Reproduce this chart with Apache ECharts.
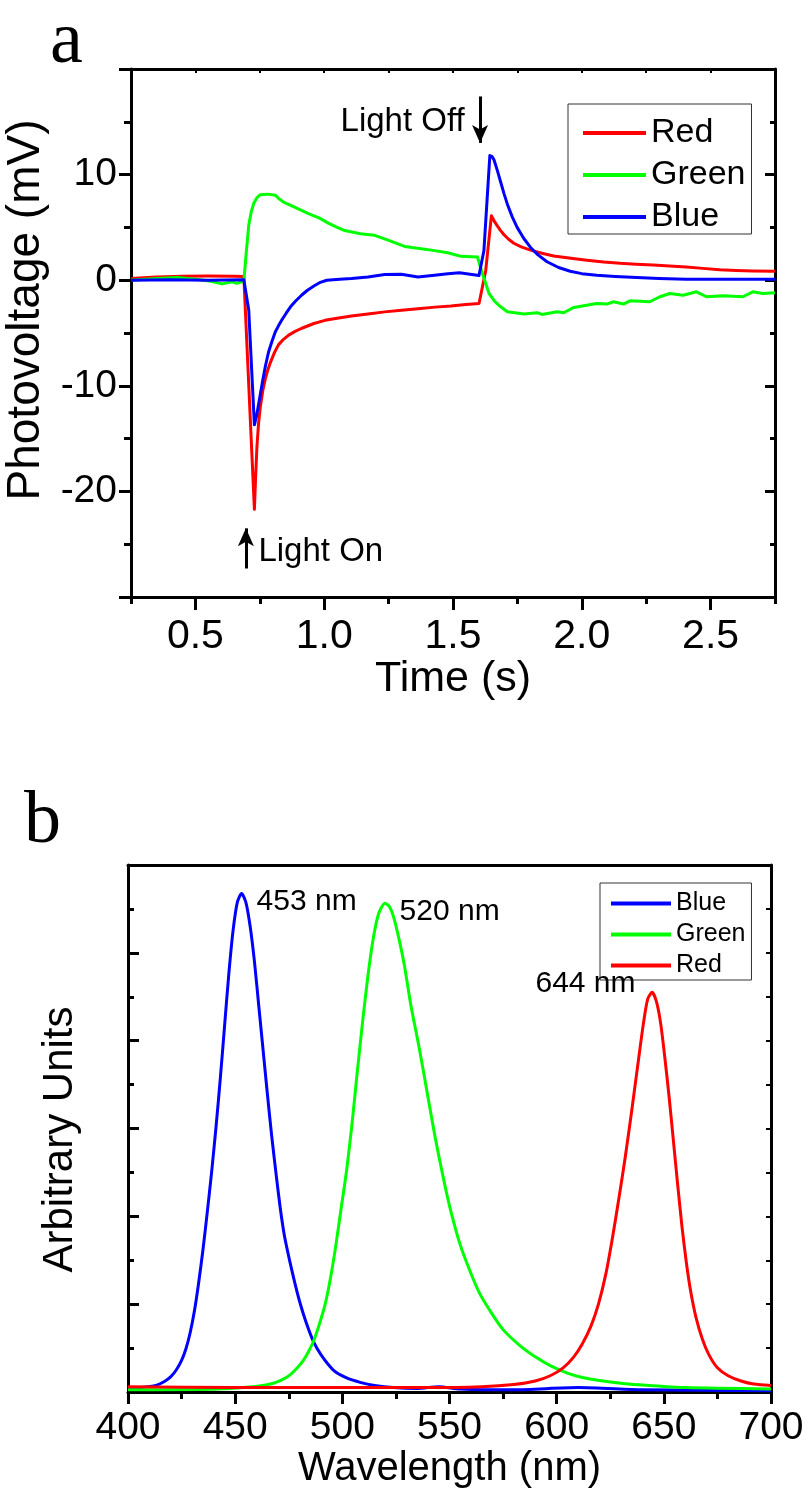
<!DOCTYPE html>
<html>
<head>
<meta charset="utf-8">
<script src="https://cdn.jsdelivr.net/npm/echarts@6/dist/echarts.min.js"></script>
<style>
html,body{margin:0;padding:0;background:#fff;}
#c{width:811px;height:1494px;}
</style>
</head>
<body>
<div id="c"></div>
<script>
// ---- Panel a: photovoltage transients [time (s), mV] ----
const redA = [[0.25,0.15],[0.35,0.3],[0.45,0.37],[0.55,0.4],[0.65,0.38],[0.688,0.35],[0.729,-21.7],[0.734,-18.5],[0.739,-15.7],[0.745,-13.6],[0.752,-12.0],[0.762,-10.4],[0.772,-9.3],[0.781,-8.5],[0.791,-7.8],[0.806,-6.9],[0.823,-6.1],[0.842,-5.6],[0.862,-5.2],[0.887,-4.85],[0.913,-4.55],[0.96,-4.1],[1.003,-3.8],[1.05,-3.6],[1.106,-3.4],[1.17,-3.2],[1.235,-3.0],[1.30,-2.85],[1.364,-2.7],[1.43,-2.55],[1.492,-2.45],[1.55,-2.3],[1.601,-2.2],[1.627,0.9],[1.649,6.1],[1.66,5.6],[1.672,5.15],[1.685,4.7],[1.698,4.3],[1.717,3.85],[1.736,3.5],[1.765,3.15],[1.801,2.85],[1.845,2.55],[1.891,2.3],[1.95,2.1],[2.02,1.9],[2.085,1.72],[2.149,1.6],[2.21,1.52],[2.278,1.45],[2.34,1.35],[2.406,1.25],[2.47,1.12],[2.535,1.0],[2.6,0.93],[2.664,0.88],[2.75,0.85]];
const greenA = [[0.25,0.0],[0.35,0.15],[0.43,0.25],[0.5,0.1],[0.56,-0.1],[0.604,-0.35],[0.642,-0.15],[0.66,-0.3],[0.688,-0.1],[0.697,2.5],[0.707,5.2],[0.717,6.5],[0.727,7.3],[0.74,7.85],[0.752,8.1],[0.78,8.15],[0.81,8.05],[0.825,7.7],[0.842,7.4],[0.887,6.9],[0.939,6.3],[0.98,5.9],[1.016,5.4],[1.05,5.0],[1.08,4.7],[1.14,4.4],[1.196,4.25],[1.248,3.8],[1.312,3.2],[1.37,3.0],[1.428,2.8],[1.48,2.6],[1.531,2.26],[1.595,2.2],[1.614,0.63],[1.64,-1.26],[1.662,-2.0],[1.685,-2.52],[1.711,-2.99],[1.775,-3.2],[1.827,-3.08],[1.846,-3.24],[1.904,-2.99],[1.93,-3.08],[1.969,-2.58],[2.058,-2.2],[2.097,-2.26],[2.123,-2.04],[2.162,-2.26],[2.187,-1.95],[2.264,-2.04],[2.303,-1.57],[2.342,-1.26],[2.393,-1.42],[2.445,-1.1],[2.484,-1.57],[2.548,-1.48],[2.625,-1.57],[2.664,-1.1],[2.703,-1.26],[2.75,-1.2]];
const blueA = [[0.25,0.0],[0.4,0.05],[0.55,0.0],[0.688,0.05],[0.707,-2.8],[0.729,-13.7],[0.737,-12.9],[0.745,-11.8],[0.752,-10.8],[0.762,-9.4],[0.772,-8.1],[0.784,-6.8],[0.797,-5.8],[0.81,-4.9],[0.823,-4.3],[0.836,-3.75],[0.853,-3.1],[0.87,-2.5],[0.89,-1.95],[0.913,-1.4],[0.935,-0.95],[0.96,-0.55],[0.985,-0.2],[1.01,0.0],[1.06,0.1],[1.106,0.15],[1.17,0.3],[1.235,0.53],[1.299,0.57],[1.364,0.3],[1.428,0.47],[1.48,0.6],[1.525,0.7],[1.601,0.45],[1.62,2.8],[1.643,11.8],[1.652,11.7],[1.659,11.4],[1.672,10.4],[1.685,9.3],[1.698,8.2],[1.711,7.2],[1.73,6.0],[1.749,5.0],[1.775,3.95],[1.801,3.1],[1.83,2.4],[1.865,1.75],[1.91,1.2],[1.955,0.85],[2.0,0.62],[2.058,0.47],[2.13,0.35],[2.213,0.25],[2.3,0.17],[2.406,0.1],[2.55,0.08],[2.75,0.08]];

// ---- Panel b: LED emission spectra [wavelength (nm), arbitrary units] ----
const blueB = [[400,0.08],[406,0.1],[413,0.15],[417,0.24],[420,0.35],[422.5,0.5],[425,0.72],[427,0.98],[429,1.35],[431,1.85],[433,2.5],[435,3.25],[437,4.1],[439,5.0],[441,6.0],[443,7.1],[445,8.3],[447,9.5],[449,10.5],[451,11.15],[453,11.35],[455,11.15],[457,10.6],[459,9.8],[461,8.8],[463,7.8],[465,6.8],[467,5.85],[469,5.0],[471,4.2],[473,3.55],[475.6,2.95],[478,2.45],[480.3,2.02],[483,1.6],[486.5,1.15],[490,0.85],[495.8,0.5],[502,0.32],[508.3,0.22],[515,0.15],[523.8,0.1],[535,0.08],[545,0.12],[555,0.07],[580,0.05],[610,0.1],[640,0.05],[700,0.03]];
const greenB = [[400,0.05],[440,0.06],[453.8,0.1],[462,0.14],[467.8,0.2],[472,0.28],[475.6,0.39],[479,0.55],[481.8,0.72],[484,0.9],[486.5,1.15],[489,1.5],[492,2.0],[494.5,2.6],[497,3.35],[499.5,4.2],[502,5.05],[504.5,6.1],[507,7.3],[509.5,8.45],[512,9.5],[514.5,10.35],[517,10.9],[519.9,11.13],[522,11.05],[524,10.8],[526.5,10.3],[529,9.7],[532,8.8],[536,7.8],[540,6.7],[543.3,5.8],[547,4.9],[550.2,4.2],[555,3.35],[559.6,2.75],[564,2.25],[568.9,1.85],[575,1.42],[583,1.05],[590,0.8],[597,0.6],[605,0.43],[612,0.33],[620,0.26],[632,0.19],[643.5,0.15],[660,0.1],[700,0.07]];
const redB = [[400,0.12],[450,0.1],[500,0.1],[540,0.1],[565,0.12],[580,0.17],[590,0.25],[597,0.37],[603,0.55],[608,0.8],[612,1.1],[616,1.5],[619.5,2.0],[623,2.7],[626,3.5],[629,4.4],[632,5.35],[635,6.4],[638,7.5],[640.5,8.4],[642.5,8.95],[644.5,9.1],[646.5,8.9],[648.5,8.4],[650.5,7.6],[652.5,6.7],[654.5,5.7],[656.5,4.7],[658.5,3.75],[660.5,2.95],[662.5,2.3],[665,1.7],[668,1.2],[671,0.85],[675,0.55],[680,0.37],[686,0.25],[692,0.18],[700,0.15]];

// ---- labels ----
const legendA = ['Red','Green','Blue'];
const legendB = ['Blue','Green','Red'];
const peakLabels = [{text:'453 nm', at:[459.3,11.16], pos:'right'},{text:'520 nm', at:[526,10.93], pos:'right'},{text:'644 nm', at:[637.5,9.29], pos:'left'}];

const SANS = '"Liberation Sans", Arial, sans-serif';
const BLACK = '#000';
const axLine = {show:true, onZero:false, lineStyle:{color:BLACK, width:3}};

function lineSeries(name, data, color, xi, yi, extra){
  return Object.assign({
    name, type:'line', data, xAxisIndex:xi, yAxisIndex:yi,
    symbol:'none', showSymbol:false, animation:false,
    lineStyle:{color, width:3, join:'round'}, itemStyle:{color}, z:3
  }, extra||{});
}

const chart = echarts.init(document.getElementById('c'), null, {renderer:'canvas', width:811, height:1494});

const option = {
  backgroundColor:'#fff',
  animation:false,
  textStyle:{fontFamily:SANS, color:BLACK},
  graphic:[
    {type:'text', x:50, y:6, style:{text:'a', font:'74px "Liberation Serif", serif', fill:BLACK}},
    {type:'text', x:24, y:786, style:{text:'b', font:'74px "Liberation Serif", serif', fill:BLACK}}
  ],
  grid:[
    {left:131, top:69, width:644, height:528, outerBoundsMode:'none', containLabel:false},
    {left:195.4, top:69, width:515.2, height:528, outerBoundsMode:'none', containLabel:false},
    {left:128, top:865, width:643, height:527, outerBoundsMode:'none', containLabel:false}
  ],
  xAxis:[
    {gridIndex:0, type:'value', position:'bottom', min:0.25, max:2.75, interval:0.25,
     axisLine:axLine, axisTick:{show:true, inside:false, length:7, lineStyle:{color:BLACK,width:3}},
     axisLabel:{show:false}, splitLine:{show:false}},
    {gridIndex:1, type:'value', position:'bottom', min:0.5, max:2.5, interval:0.5,
     axisLine:{show:false, onZero:false}, axisTick:{show:true, inside:false, length:13, lineStyle:{color:BLACK,width:3}},
     axisLabel:{show:true, fontSize:41, color:BLACK, fontFamily:SANS, margin:19, formatter:v=>v.toFixed(1)},
     splitLine:{show:false},
     name:'Time (s)', nameLocation:'middle', nameGap:49, nameTextStyle:{fontSize:43, color:BLACK, fontFamily:SANS}},
    {gridIndex:0, type:'value', position:'top', min:0.25, max:2.75, interval:0.25,
     axisLine:axLine, axisTick:{show:true, inside:true, length:4, lineStyle:{color:BLACK,width:2}},
     axisLabel:{show:false}, splitLine:{show:false}},
    {gridIndex:2, type:'value', position:'bottom', min:400, max:700, interval:50,
     axisLine:axLine, axisTick:{show:true, inside:false, length:12, lineStyle:{color:BLACK,width:3}},
     minorTick:{show:true, splitNumber:2, length:7, lineStyle:{color:BLACK,width:3}},
     axisLabel:{show:true, fontSize:39, color:BLACK, fontFamily:SANS, margin:17},
     splitLine:{show:false}, minorSplitLine:{show:false},
     name:'Wavelength (nm)', nameLocation:'middle', nameGap:56, nameTextStyle:{fontSize:40, color:BLACK, fontFamily:SANS}},
    {gridIndex:2, type:'value', position:'top', min:400, max:700, interval:50,
     axisLine:axLine, axisTick:{show:false}, axisLabel:{show:false}, splitLine:{show:false}}
  ],
  yAxis:[
    {gridIndex:0, type:'value', position:'left', min:-30, max:20, interval:10,
     axisLine:axLine, axisTick:{show:true, inside:false, length:12, lineStyle:{color:BLACK,width:3}},
     minorTick:{show:true, splitNumber:2, length:7, lineStyle:{color:BLACK,width:3}},
     axisLabel:{show:true, fontSize:39, color:BLACK, fontFamily:SANS, margin:14, showMinLabel:false, showMaxLabel:false},
     splitLine:{show:false}, minorSplitLine:{show:false},
     name:'Photovoltage (mV)', nameLocation:'middle', nameGap:79,
     nameTextStyle:{fontSize:46, color:BLACK, fontFamily:SANS, padding:[0,0,0,46]}},
    {gridIndex:0, type:'value', position:'right', min:-30, max:20, interval:10,
     axisLine:axLine, axisTick:{show:true, inside:true, length:10, lineStyle:{color:BLACK,width:3}},
     minorTick:{show:true, splitNumber:2, length:5, lineStyle:{color:BLACK,width:3}},
     axisLabel:{show:false}, splitLine:{show:false}},
    {gridIndex:1, type:'value', show:false, min:0, max:1, axisLine:{onZero:false}},
    {gridIndex:2, type:'value', position:'left', min:0, max:12, interval:2,
     axisLine:axLine, axisTick:{show:true, inside:true, length:11, lineStyle:{color:BLACK,width:3}},
     minorTick:{show:true, splitNumber:2, length:6, lineStyle:{color:BLACK,width:3}},
     axisLabel:{show:false}, splitLine:{show:false}, minorSplitLine:{show:false},
     name:'Arbitrary Units', nameLocation:'middle', nameGap:47,
     nameTextStyle:{fontSize:42, color:BLACK, fontFamily:SANS, padding:[0,22,0,0]}},
    {gridIndex:2, type:'value', position:'right', min:0, max:12, interval:2,
     axisLine:axLine, axisTick:{show:true, inside:true, length:5, lineStyle:{color:BLACK,width:2}},
     minorTick:{show:true, splitNumber:2, length:5, lineStyle:{color:BLACK,width:2}},
     axisLabel:{show:false}, splitLine:{show:false}}
  ],
  legend:[
    {data:legendA, orient:'vertical', left:568, top:104, itemWidth:63, itemHeight:14, itemGap:8,
     padding:[12,6,0,13], borderColor:'#333', borderWidth:1, backgroundColor:'#fff',
     textStyle:{fontSize:34, lineHeight:30, color:BLACK, fontFamily:SANS}, itemStyle:{opacity:0}, lineStyle:{width:4},
     selectedMode:false},
    {data:legendB, orient:'vertical', left:600, top:883, itemWidth:60, itemHeight:12, itemGap:6,
     padding:[8,6,2,9], borderColor:'#333', borderWidth:1, backgroundColor:'#fff',
     textStyle:{fontSize:25, lineHeight:25, color:BLACK, fontFamily:SANS}, itemStyle:{opacity:0}, lineStyle:{width:4},
     selectedMode:false}
  ],
  series:[
    lineSeries('Red', redA, '#ff0000', 0, 0, {
      markLine:{silent:true, animation:false, lineStyle:{color:BLACK, width:3, type:'solid'}, label:{show:false},
        data:[
          [{coord:[1.605,17.4], symbol:'none'},{coord:[1.605,13.0], symbol:'arrow', symbolSize:[12,18]}],
          [{coord:[0.696,-27.3], symbol:'none'},{coord:[0.696,-23.5], symbol:'arrow', symbolSize:[12,18]}]
        ]},
      markPoint:{silent:true, animation:false, symbol:'circle', symbolSize:1, itemStyle:{color:'rgba(0,0,0,0)'},
        data:[
          {coord:[1.555,14.98], label:{show:true, position:'left', distance:2, formatter:'Light Off', fontSize:33, color:BLACK, fontFamily:SANS}},
          {coord:[0.735,-25.7], label:{show:true, position:'right', distance:2, formatter:'Light On', fontSize:33, color:BLACK, fontFamily:SANS}}
        ]}
    }),
    lineSeries('Green', greenA, '#00ff00', 0, 0),
    lineSeries('Blue', blueA, '#0000ff', 0, 0),
    lineSeries('Blue', blueB, '#0000ff', 3, 3, {
      smooth:0.25,
      markPoint:{silent:true, animation:false, symbol:'circle', symbolSize:1, itemStyle:{color:'rgba(0,0,0,0)'},
        data: peakLabels.map(p => ({coord:p.at, label:{show:true, position:p.pos, distance:1, formatter:p.text, fontSize:30, color:BLACK, fontFamily:SANS}}))}
    }),
    lineSeries('Green', greenB, '#00ff00', 3, 3, {smooth:0.25}),
    lineSeries('Red', redB, '#ff0000', 3, 3, {smooth:0.25})
  ]
};
chart.setOption(option);
</script>
</body>
</html>
